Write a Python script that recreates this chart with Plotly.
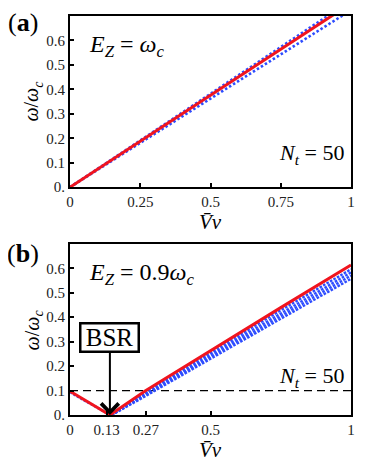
import plotly.graph_objects as go

# ---------------- data ----------------
# panel (a): E_Z = omega_c
a_red_x = [0.0, 0.25, 0.5, 0.75, 1.0]
a_red_y = [0.0, 0.188, 0.376, 0.564, 0.752]
a_blue_up_x = [0.0, 0.25, 0.5, 0.75, 1.0]
a_blue_up_y = [0.0, 0.191, 0.382, 0.573, 0.764]
a_blue_lo_x = [0.0, 0.25, 0.5, 0.75, 1.0]
a_blue_lo_y = [0.0, 0.181, 0.362, 0.543, 0.724]

# panel (b): E_Z = 0.9 omega_c
b_red_x = [0.0, 0.142, 0.27, 0.5, 0.75, 1.0]
b_red_y = [0.097, 0.0, 0.1, 0.263, 0.439, 0.613]
b_blue_left_x = [0.0, 0.142]
b_blue_left_y = [0.094, 0.0]
b_blue_x = [0.148, 0.27, 0.5, 0.75, 1.0]
b_blue_1 = [0.0, 0.094, 0.256, 0.428, 0.596]
b_blue_2 = [0.0, 0.088, 0.247, 0.416, 0.583]
b_blue_3 = [0.0, 0.083, 0.238, 0.404, 0.570]
b_blue_4 = [0.0, 0.078, 0.230, 0.393, 0.557]
b_dash_x = [0.0, 1.0]
b_dash_y = [0.1, 0.1]
bsr_x = 0.142
bsr_y = 0.0

y_ticks = [0.0, 0.1, 0.2, 0.3, 0.4, 0.5, 0.6]
y_ticktext = ["0.", "0.1", "0.2", "0.3", "0.4", "0.5", "0.6"]
a_x_ticks = [0, 0.25, 0.5, 0.75, 1]
a_x_ticktext = ["0", "0.25", "0.5", "0.75", "1"]
b_x_ticks = [0, 0.13, 0.27, 0.5, 1]
b_x_ticktext = ["0", "0.13", "0.27", "0.5", "1"]

RED = "#f0141e"
BLUE = "#2d4cff"
FONT = "Liberation Serif"

fig = go.Figure()

def add_line(x, y, xa, ya, color, width, dash="solid"):
    fig.add_trace(go.Scatter(x=x, y=y, mode="lines", xaxis=xa, yaxis=ya,
                             line=dict(color=color, width=width, dash=dash),
                             showlegend=False, hoverinfo="skip"))

# panel (a)
add_line(a_blue_up_x, a_blue_up_y, "x", "y", BLUE, 2.6, "2.5px,2.2px")
add_line(a_blue_lo_x, a_blue_lo_y, "x", "y", BLUE, 2.6, "2.5px,2.2px")
add_line(a_red_x, a_red_y, "x", "y", RED, 3)

# panel (b)
add_line(b_dash_x, b_dash_y, "x2", "y2", "black", 1.2, "8px,5px")
add_line(b_blue_left_x, b_blue_left_y, "x2", "y2", BLUE, 2.6, "2.5px,1.5px")
for yy in [b_blue_4, b_blue_3, b_blue_2, b_blue_1]:
    add_line(b_blue_x, yy, "x2", "y2", BLUE, 2.4, "2.6px,1.4px")
add_line(b_red_x, b_red_y, "x2", "y2", RED, 3)

axis_common = dict(showline=True, mirror=True, linecolor="black", linewidth=2,
                   ticks="inside", ticklen=4, tickwidth=1.5, tickcolor="black",
                   showgrid=False, zeroline=False,
                   tickfont=dict(family=FONT, size=15, color="#222"))

# the page body has an 8px margin, so the figure is sized/offset for it
fig.update_layout(
    width=366, height=456,
    margin=dict(l=62, r=23, t=6, b=49),
    paper_bgcolor="white", plot_bgcolor="white",
    xaxis=dict(domain=[0, 1], range=[0, 1], anchor="y",
               tickvals=a_x_ticks, ticktext=a_x_ticktext, **axis_common),
    yaxis=dict(domain=[0.571, 1], range=[0, 0.7], anchor="x",
               tickvals=y_ticks, ticktext=y_ticktext, **axis_common),
    xaxis2=dict(domain=[0, 1], range=[0, 1], anchor="y2",
                tickvals=b_x_ticks, ticktext=b_x_ticktext, **axis_common),
    yaxis2=dict(domain=[0, 0.429], range=[0, 0.7], anchor="x2",
                tickvals=y_ticks, ticktext=y_ticktext, **axis_common),
)

# window-pixel -> paper coordinates (plot area spans x 70..351, y 14..415 in window)
def px(xp):
    return (xp - 70) / 281.0

def py(yp):
    return (415 - yp) / 401.0

def note(text, x, y, size, xanchor="center", angle=0):
    fig.add_annotation(text=text, x=px(x), y=py(y), xref="paper", yref="paper",
                       showarrow=False, xanchor=xanchor, yanchor="middle",
                       textangle=angle,
                       font=dict(family=FONT, size=size, color="black"))

# panel labels
note("(<b>a</b>)", 23, 21, 26)
note("(<b>b</b>)", 23, 253, 26)

# axis titles
for yc in [100, 330]:
    note("<i>ω</i>/<i>ω</i><sub><i>c</i></sub>", 33, yc, 20, "center", -90)
for yc in [221, 450]:
    note("<i>V̄ν</i>", 210, yc, 21)

# in-plot labels
note("<i>E</i><sub><i>Z</i></sub> = <i>ω</i><sub><i>c</i></sub>", 87, 44, 24, "left")
note("<i>N</i><sub><i>t</i></sub> = 50", 277, 153, 22, "left")
note("<i>E</i><sub><i>Z</i></sub> = 0.9<i>ω</i><sub><i>c</i></sub>", 87, 273, 24, "left")
note("<i>N</i><sub><i>t</i></sub> = 50", 277, 377, 22, "left")

# BSR box with arrow
fig.add_annotation(text="BSR", x=bsr_x, y=bsr_y, xref="x2", yref="y2",
                   ax=0, ay=-77, axref="pixel", ayref="pixel",
                   showarrow=True, arrowhead=4, arrowsize=1.7, arrowwidth=2,
                   arrowcolor="black", standoff=0,
                   width=56, height=26,
                   bordercolor="black", borderwidth=2.5, borderpad=0, bgcolor="white",
                   font=dict(family=FONT, size=25, color="black"))

fig.write_html("out.html")
